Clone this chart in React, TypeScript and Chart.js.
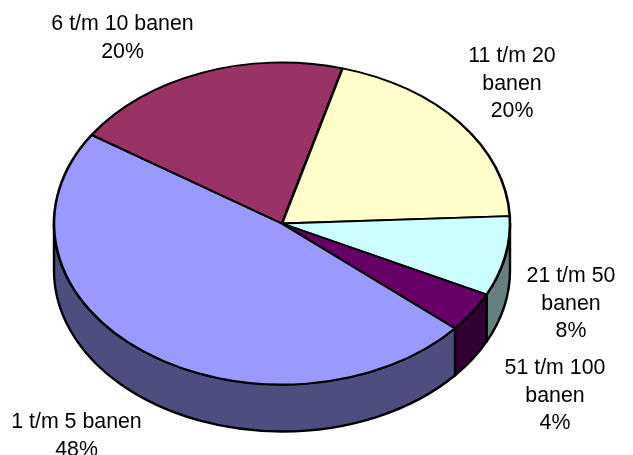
import React, { useEffect, useRef } from "react";
import { Chart, registerables } from "chart.js";

Chart.register(...registerables);

const categories = ["1 t/m 5 banen", "6 t/m 10 banen", "11 t/m 20 banen", "21 t/m 50 banen", "51 t/m 100 banen"];
const shares = [48, 20, 20, 8, 4];
const topColors = ["#9999FF", "#993366", "#FFFFCC", "#CCFFFF", "#660066"];
const wallColors = ["#4D4D80", "#4D1A33", "#808066", "#668080", "#330033"];
const labelLines = [
  ["1 t/m 5 banen", "48%"],
  ["6 t/m 10 banen", "20%"],
  ["11 t/m 20", "banen", "20%"],
  ["21 t/m 50", "banen", "8%"],
  ["51 t/m 100", "banen", "4%"],
];
const labelAnchors = [
  [76.5, 422],
  [122.5, 24],
  [512, 56],
  [571, 276],
  [555, 368],
];

const SQUASH = 161 / 228;
const DEPTH = 47;
const LINE = 2.4;

const pie3d = {
  id: "pie3d",
  beforeDatasetsDraw(chart: any) {
    const { ctx } = chart;
    const arcs = chart.getDatasetMeta(0).data;
    const { x: cx, y: cy, outerRadius: rx } = arcs[0];
    const ry = rx * SQUASH;
    ctx.save();
    ctx.lineWidth = LINE;
    ctx.strokeStyle = "#000";
    ctx.lineJoin = "round";
    arcs.forEach((arc: any, i: number) => {
      // only the front half of the rim shows
      const ranges: [number, number][] = [];
      const tau = Math.PI * 2;
      for (const k of [-1, 0, 1]) {
        const a = Math.max(arc.startAngle, k * tau);
        const b = Math.min(arc.endAngle, k * tau + Math.PI);
        if (b > a) ranges.push([a, b]);
      }
      for (const [a, b] of ranges) {
        ctx.beginPath();
        ctx.ellipse(cx, cy, rx, ry, 0, a, b);
        ctx.ellipse(cx, cy + DEPTH, rx, ry, 0, b, a, true);
        ctx.closePath();
        ctx.fillStyle = wallColors[i];
        ctx.fill();
        ctx.stroke();
      }
    });
    ctx.restore();
    ctx.save();
    ctx.translate(cx, cy);
    ctx.scale(1, SQUASH);
    ctx.translate(-cx, -cy);
  },
  afterDatasetsDraw(chart: any) {
    const { ctx } = chart;
    ctx.restore();
    ctx.save();
    ctx.font = '21.33px "Liberation Sans"';
    ctx.fillStyle = "#000";
    ctx.textAlign = "center";
    ctx.textBaseline = "middle";
    labelLines.forEach((lines, i) => {
      lines.forEach((t, j) => ctx.fillText(t, labelAnchors[i][0], labelAnchors[i][1] + j * 27.8));
    });
    ctx.restore();
  },
};

export default function App() {
  const ref = useRef<HTMLCanvasElement>(null);
  useEffect(() => {
    document.body.style.margin = "0";
    const chart = new Chart(ref.current!, {
      type: "pie",
      data: {
        labels: categories,
        datasets: [{
          data: shares,
          backgroundColor: topColors,
          borderColor: "#000",
          borderWidth: 2.6,
          borderAlign: "center",
        }],
      },
      options: {
        responsive: false,
        animation: false,
        rotation: 130.6,
        radius: 228,
        layout: { padding: { left: 54, right: 123, top: 0, bottom: 8 } },
        plugins: { legend: { display: false }, tooltip: { enabled: false } },
      } as any,
      plugins: [pie3d],
    });
    return () => chart.destroy();
  }, []);
  return <canvas ref={ref} width={633} height={455} style={{ display: "block" }} />;
}
